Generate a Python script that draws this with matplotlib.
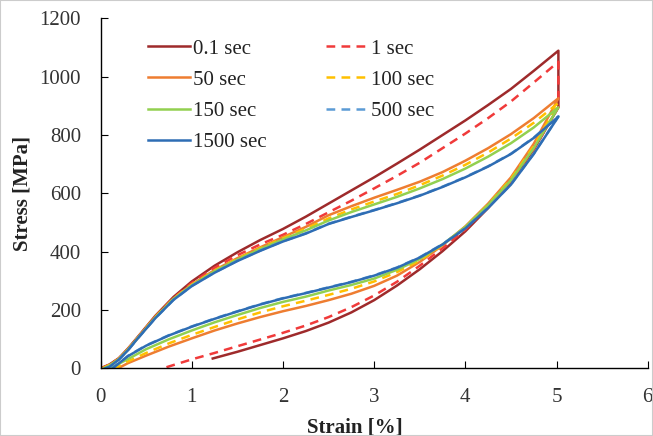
import matplotlib
matplotlib.use("Agg")
import matplotlib.pyplot as plt
from matplotlib.patches import Rectangle

plt.rcParams['font.family'] = ['Liberation Serif', 'DejaVu Serif']

# strain grid for the loading branch, then the unloading branch back down
x_load = [0.1, 0.2, 0.3, 0.4, 0.6, 0.8, 1.0, 1.25, 1.5, 1.75, 2.0, 2.25, 2.5, 2.75, 3.0, 3.25, 3.5, 3.75,
          4.0, 4.25, 4.5, 4.75, 5.02]
x_unload = [4.75, 4.5, 4.25, 4.0, 3.75, 3.5, 3.25, 3.0, 2.75, 2.5, 2.25, 2.0, 1.75, 1.5, 1.25, 1.0, 0.75,
            0.5, 0.3]

# 0.1 sec
load_01 = [14, 35, 68, 105, 180, 245, 298, 352, 398, 440, 478, 520, 565, 610, 655, 702, 750, 800, 850,
           903, 958, 1020, 1089]
unload_01_x = [5.02, 4.75, 4.5, 4.25, 4.0, 3.75, 3.5, 3.25, 3.0, 2.75, 2.5, 2.25, 2.0, 1.75, 1.5, 1.23]
unload_01 = [895, 750, 640, 550, 470, 402, 340, 284, 234, 192, 157, 128, 103, 80, 57, 34]

# 1 sec
load_1 = [13, 34, 66, 103, 177, 241, 293, 345, 388, 425, 458, 495, 535, 575, 617, 660, 705, 755, 805,
          858, 915, 980, 1051]
unload_1_x = [5.02, 4.75, 4.5, 4.25, 4.0, 3.75, 3.5, 3.25, 3.0, 2.75, 2.5, 2.25, 2.0, 1.75, 1.5, 1.25, 1.0,
              0.68]
unload_1 = [895, 752, 642, 554, 476, 412, 352, 297, 250, 210, 176, 147, 122, 99, 76, 53, 31, 0]

# 50 sec
load_50 = [12, 33, 66, 103, 177, 240, 288, 337, 378, 415, 450, 485, 525, 556, 585, 612, 640, 673, 712,
           755, 803, 858, 926]
unload_50 = [770, 655, 565, 487, 422, 365, 318, 283, 256, 234, 214, 196, 176, 154, 130, 103, 75, 44, 18]
start_50, end_50 = 0.02, 0.19

# 100 sec
load_100 = [12, 32, 65, 102, 176, 239, 287, 335, 376, 412, 446, 479, 514, 545, 572, 598, 628, 661, 698,
            740, 788, 842, 910]
unload_100 = [762, 650, 562, 485, 423, 370, 330, 298, 273, 252, 232, 213, 192, 168, 142, 115, 86, 53, 24]
start_100, end_100 = 0.02, 0.15

# 150 sec
load_150 = [10, 32, 64, 101, 174, 238, 285, 333, 373, 409, 442, 473, 507, 536, 562, 588, 617, 649, 685,
            726, 772, 826, 895]
unload_150 = [755, 645, 560, 485, 425, 375, 338, 308, 286, 267, 246, 228, 207, 183, 158, 130, 100, 66, 32]
start_150, end_150 = 0.03, 0.1

# 500 sec
load_500 = [6, 30, 62, 100, 172, 235, 283, 329, 369, 404, 436, 463, 496, 520, 543, 567, 593, 623, 656,
            693, 736, 791, 864]
unload_500 = [736, 631, 551, 481, 426, 381, 346, 319, 297, 278, 259, 241, 220, 196, 171, 144, 114, 79, 43]
start_500, end_500 = 0.05, 0.13

# 1500 sec
load_1500 = [6, 30, 62, 100, 172, 235, 282, 328, 368, 403, 435, 462, 495, 519, 542, 566, 592, 622, 655,
             692, 735, 790, 863]
unload_1500 = [735, 630, 550, 480, 425, 380, 345, 318, 296, 277, 258, 240, 219, 195, 170, 143, 113, 78, 42]
start_1500, end_1500 = 0.05, 0.13

labels = ['0.1 sec', '1 sec', '50 sec', '100 sec', '150 sec', '500 sec', '1500 sec']
colors = ['#9E2A2B', '#F03A3A', '#EE7D31', '#FFC000', '#92D050', '#5B9BD5', '#2E6DB4']
dashed = [False, True, False, True, False, True, False]

xs = [[0] + x_load + unload_01_x,
      [0] + x_load + unload_1_x,
      [start_50] + x_load + x_unload + [end_50],
      [start_100] + x_load + x_unload + [end_100],
      [start_150] + x_load + x_unload + [end_150],
      [start_500] + x_load + x_unload + [end_500],
      [start_1500] + x_load + x_unload + [end_1500]]
ys = [[0] + load_01 + unload_01,
      [0] + load_1 + unload_1,
      [0] + load_50 + unload_50 + [0],
      [0] + load_100 + unload_100 + [0],
      [0] + load_150 + unload_150 + [0],
      [0] + load_500 + unload_500 + [0],
      [0] + load_1500 + unload_1500 + [0]]

fig = plt.figure(figsize=(6.53, 4.36), dpi=100)
ax = fig.add_axes([0.154, 0.155, 0.838, 0.803])

handles = []
for xv, yv, c, d, lab in zip(xs, ys, colors, dashed, labels):
    ls = (0, (3.5, 2.5)) if d else '-'
    h, = ax.plot(xv, yv, color=c, lw=1.8, ls=ls, label=lab, solid_joinstyle='round')
    handles.append(h)

ax.set_xlim(0, 6)
ax.set_ylim(0, 1200)
ax.set_xticks(range(0, 7))
ax.set_yticks(range(0, 1201, 200))
ax.spines['top'].set_visible(False)
ax.spines['right'].set_visible(False)
for s in ['left', 'bottom']:
    ax.spines[s].set_linewidth(1.0)
ax.tick_params(direction='in', length=5, labelsize=15, labelcolor='#333333', width=0.8)
ax.tick_params(axis='x', pad=14)
ax.tick_params(axis='y', pad=14)

ax.set_xlabel('Strain [%]', fontsize=15, fontweight='bold', color='#222222')
ax.set_ylabel('Stress [MPa]', fontsize=15, fontweight='bold', color='#222222')
ax.xaxis.set_label_coords(0.465, -0.14)
ax.yaxis.set_label_coords(-0.125, 0.5)

order = [0, 2, 4, 6, 1, 3, 5]
ax.legend([handles[i] for i in order], [labels[i] for i in order], ncol=2, frameon=False,
          fontsize=15, loc='upper left', bbox_to_anchor=(0.053, 0.994),
          handlelength=2.0, handletextpad=0.15, columnspacing=2.85, labelspacing=0.55,
          labelcolor='#222222')

fig.patches.append(Rectangle((0, 0), 1, 1, transform=fig.transFigure, fill=False,
                             edgecolor='#cccccc', lw=1.5))

fig.savefig('out.png', dpi=100)
